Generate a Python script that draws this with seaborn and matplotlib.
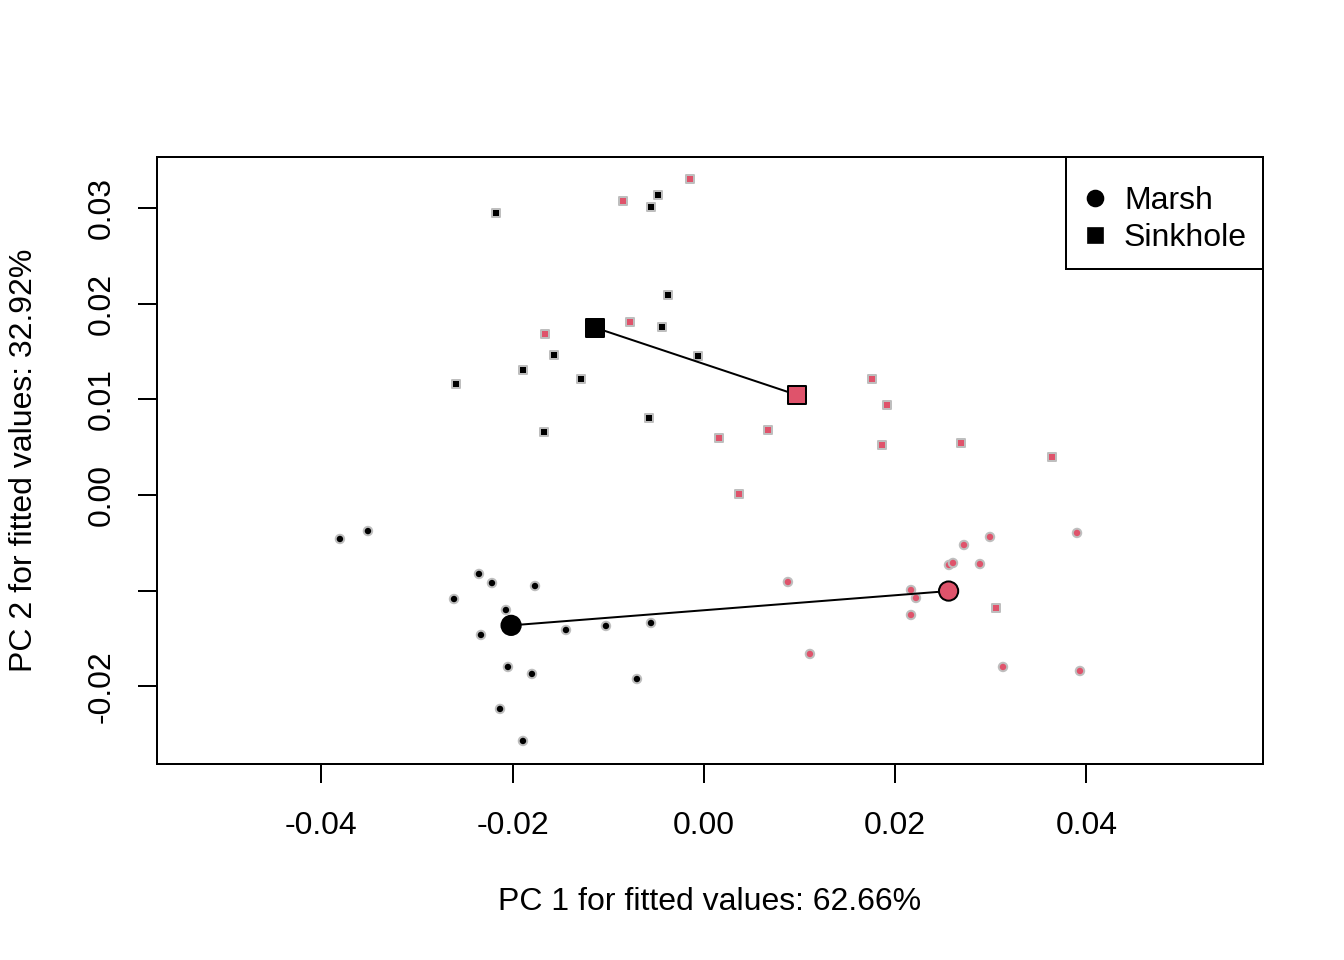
import numpy as np
import pandas as pd
import matplotlib
matplotlib.use("Agg")
import matplotlib.pyplot as plt
from matplotlib.lines import Line2D
import seaborn as sns

plt.rcParams['font.family'] = ['Liberation Sans', 'DejaVu Sans']

# PC scores, by habitat (marker) and level (colour)
marsh_a_pc1 = [-0.03807, -0.03514, -0.02353, -0.02217, -0.01767, -0.02614, -0.02071, -0.02332,
               -0.01443, -0.01025, -0.00554, -0.02050, -0.01799, -0.00701, -0.02133, -0.01893]
marsh_a_pc2 = [-0.00460, -0.00377, -0.00826, -0.00921, -0.00952, -0.01088, -0.01203, -0.01464,
               -0.01412, -0.01370, -0.01339, -0.01799, -0.01872, -0.01925, -0.02238, -0.02573]
marsh_b_pc1 = [0.03901, 0.02991, 0.02719, 0.02562, 0.02604, 0.02886, 0.00878, 0.02165,
               0.02217, 0.02165, 0.01108, 0.03127, 0.03932]
marsh_b_pc2 = [-0.00397, -0.00439, -0.00523, -0.00732, -0.00711, -0.00722, -0.00910, -0.00994,
               -0.01077, -0.01255, -0.01663, -0.01799, -0.01841]
sink_a_pc1 = [-0.02175, -0.00481, -0.00554, -0.00376, -0.00439, -0.01569, -0.01893, -0.02594,
              -0.01286, -0.00063, -0.00575, -0.01673]
sink_a_pc2 = [0.02950, 0.03138, 0.03013, 0.02092, 0.01757, 0.01464, 0.01308, 0.01161,
              0.01213, 0.01454, 0.00805, 0.00659]
sink_b_pc1 = [-0.00146, -0.00847, -0.01663, -0.00774, 0.00157, 0.00669, 0.01757, 0.01914,
              0.01861, 0.02688, 0.03639, 0.00366, 0.03054]
sink_b_pc2 = [0.03305, 0.03075, 0.01684, 0.01810, 0.00596, 0.00680, 0.01213, 0.00941,
              0.00523, 0.00544, 0.00397, 0.00010, -0.01182]

habitats = ["Marsh", "Sinkhole"]
levels = ["A", "B"]
colors = {"A": "black", "B": "#DF536B"}
markers = {"Marsh": "o", "Sinkhole": "s"}

rows = []
for hab, lev, xs, ys in [("Marsh", "A", marsh_a_pc1, marsh_a_pc2),
                         ("Marsh", "B", marsh_b_pc1, marsh_b_pc2),
                         ("Sinkhole", "A", sink_a_pc1, sink_a_pc2),
                         ("Sinkhole", "B", sink_b_pc1, sink_b_pc2)]:
    for x, y in zip(xs, ys):
        rows.append((hab, lev, x, y))
df = pd.DataFrame(rows, columns=["habitat", "level", "PC1", "PC2"])
means = df.groupby(["habitat", "level"], as_index=False)[["PC1", "PC2"]].mean()

fig = plt.figure(figsize=(7, 5), dpi=192)
ax = fig.add_axes([157/1344, 1-764/960, (1263-157)/1344, (764-157)/960])

sns.scatterplot(data=df, x="PC1", y="PC2", hue="level", style="habitat",
                palette=colors, markers=markers, s=10, edgecolor="#BEBEBE",
                linewidth=0.75, legend=False, ax=ax, zorder=2)

# lines joining the level means within each habitat
for hab in habitats:
    m = means[means.habitat == hab]
    ax.plot(m.PC1, m.PC2, color="black", lw=0.75, zorder=3)

for hab, size in [("Marsh", 52), ("Sinkhole", 46)]:
    sns.scatterplot(data=means[means.habitat == hab], x="PC1", y="PC2", hue="level",
                    palette=colors, marker=markers[hab], s=size, edgecolor="black",
                    linewidth=0.75, legend=False, ax=ax, zorder=4)

ax.set_xlim(-0.05720, 0.05846)
ax.set_ylim(-0.02814, 0.03536)
ax.set_xticks([-0.04, -0.02, 0.0, 0.02, 0.04])
ax.set_xticklabels(["-0.04", "-0.02", "0.00", "0.02", "0.04"])
ax.set_yticks([-0.02, -0.01, 0.0, 0.01, 0.02, 0.03])
ax.set_yticklabels(["-0.02", "", "0.00", "0.01", "0.02", "0.03"], rotation=90, va="center")
ax.tick_params(direction="out", length=7.2, width=0.75, labelsize=12, color="black")
ax.tick_params(axis="x", pad=10.3)
ax.tick_params(axis="y", pad=8)
for sp in ax.spines.values():
    sp.set_linewidth(0.75)
    sp.set_color("black")

ax.set_xlabel("PC 1 for fitted values: 62.66%", fontsize=12)
ax.set_ylabel("PC 2 for fitted values: 32.92%", fontsize=12)
ax.xaxis.label.set_va("center")
ax.yaxis.label.set_va("center")
ax.xaxis.set_label_coords(0.5, (902 - 764) / -(764 - 157))
ax.yaxis.set_label_coords((24 - 157) / (1263 - 157), 0.5)

handles = [Line2D([], [], marker="o", color="black", ls="none", markersize=5.6),
           Line2D([], [], marker="s", color="black", ls="none", markersize=5.0)]
# blank tiny title gives the extra top padding of R's legend box
leg = ax.legend(handles, habitats, loc="upper right", borderaxespad=0, fontsize=12,
                frameon=True, fancybox=False, framealpha=1, edgecolor="black",
                handlelength=0.8, handletextpad=0.5, borderpad=0.5, labelspacing=0.2,
                title=" ", title_fontsize=2.5)
leg.get_frame().set_linewidth(0.75)

fig.savefig("out.png", dpi=192)
